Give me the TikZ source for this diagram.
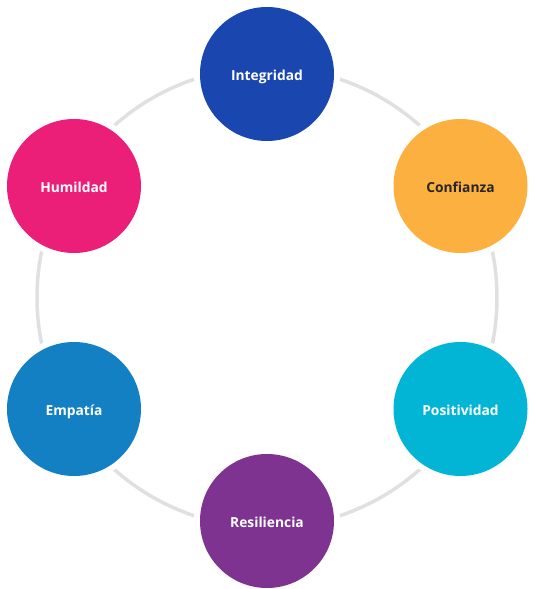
\documentclass[tikz,border=0pt]{standalone}
\usepackage{fontspec}
\setmainfont{Open Sans}
\definecolor{cint}{HTML}{1A46B0}
\definecolor{ccon}{HTML}{FBB040}
\definecolor{cpos}{HTML}{02B5D5}
\definecolor{cres}{HTML}{7E3391}
\definecolor{cemp}{HTML}{1480C4}
\definecolor{chum}{HTML}{EC1F78}
\definecolor{cring}{HTML}{E0E0E0}
\definecolor{cdark}{HTML}{262626}
\begin{document}
\begin{tikzpicture}[x=1pt,y=1pt,
  bub/.style={circle, minimum size=134pt, inner sep=0pt, text=white,
    text height=13.2pt, text depth=0pt,
    font=\fontsize{13.8}{16}\selectfont\bfseries,
    preaction={draw=white, line width=12pt}},
  ring/.style={draw=cring, line width=3.5pt}]
\useasboundingbox (0,0) rectangle (535,589);
\coordinate (ctr) at (267,291.5);
\draw[ring] (ctr) circle (230);
\node[bub, fill=cint] (int) at (267,515) {Integridad};
\node[bub, fill=ccon, text=cdark] (con) at (460.5,403) {Confianza};
\node[bub, fill=cpos] (pos) at (460.5,180) {Positividad};
\node[bub, fill=cres] (res) at (267,68) {Resiliencia};
\node[bub, fill=cemp] (emp) at (74,180) {Empatía};
\node[bub, fill=chum] (hum) at (74,403) {Humildad};
\end{tikzpicture}
\end{document}
